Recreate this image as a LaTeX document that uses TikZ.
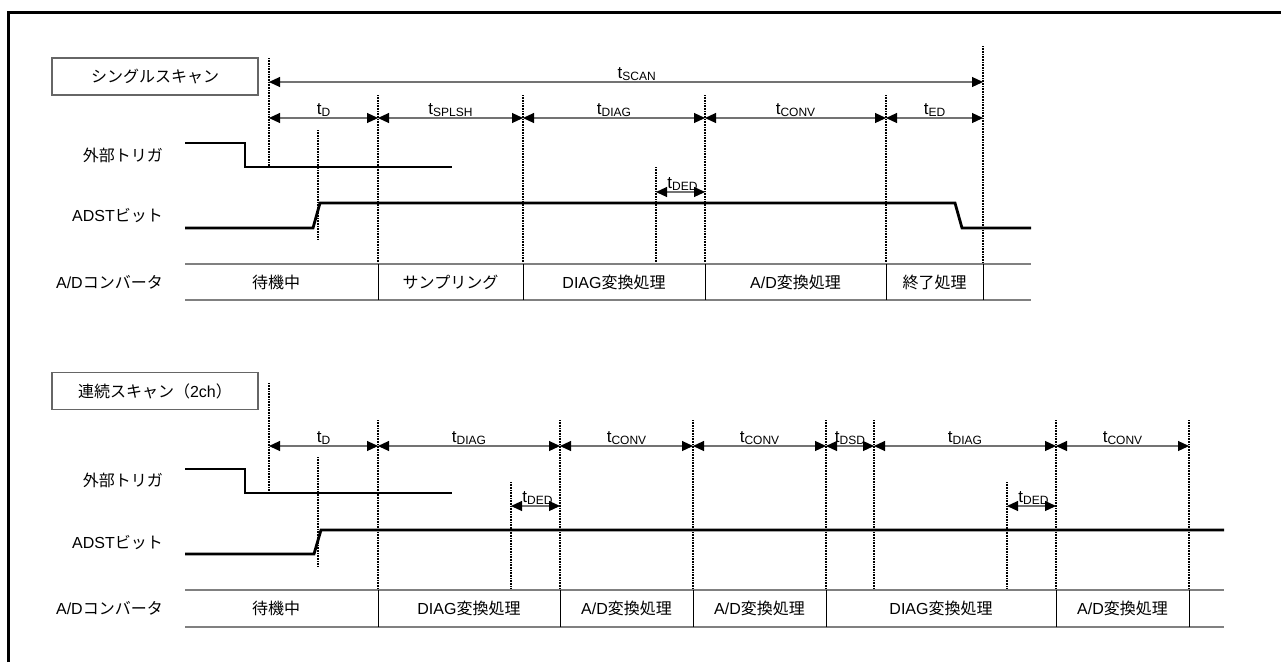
\documentclass[tikz,border=0pt]{standalone}
\usepackage{fontspec}
\setmainfont{Liberation Sans}
\newfontfamily\jp{Noto Sans CJK JP}
\usepackage{tikz}
\usetikzlibrary{arrows.meta}
\newcommand{\tsym}[1]{{\fontsize{17}{17}\selectfont t}\raisebox{-2pt}{\fontsize{12}{12}\selectfont #1}}

\begin{document}
\begin{tikzpicture}[
    x=1pt, y=-1pt,
    font=\fontsize{16}{18}\selectfont,
    sig/.style={line width=2.8pt, line join=miter},
    guide/.style={line width=1.4pt, dash pattern=on 1pt off 0.6pt},
    dimline/.style={{Triangle[length=11pt,width=10pt,black]}-{Triangle[length=11pt,width=10pt,black]}, line width=1.1pt, draw=black!55},
    tm/.style={above, inner sep=1pt},
    cellrule/.style={draw=black!50, line width=1.3pt},
    divider/.style={draw=black, line width=1pt},
    lbl/.style={anchor=east, inner sep=0pt},
    title/.style={draw=black!60, line width=1.1pt, minimum width=206pt, minimum height=37pt},
]
    \useasboundingbox (0,0) rectangle (1281,662);
    \draw[line width=3.2pt] (8.5,662) -- (8.5,12.5) -- (1281,12.5);

    % single scan
    \node[title] (single) at (155,76.5) {\jp シングルスキャン};
    \node[lbl] (trgA) at (163,155) {\jp 外部トリガ};
    \node[lbl] (adstA) at (163,215.5) {ADST{\jp ビット}};
    \node[lbl] (adcA) at (163,282) {A/D{\jp コンバータ}};

    \draw[guide] (269,58) -- (269,167);
    \draw[guide] (318,130) -- (318,240);
    \foreach \x in {378,523,705,886}
        \draw[guide] (\x,95) -- (\x,264);
    \draw[guide] (983,46) -- (983,264);
    \draw[guide] (656,167) -- (656,264);

    \coordinate (scanL) at (269,82);
    \coordinate (scanR) at (983,82);
    \draw[dimline] (scanL) -- node[tm, pos=0.515] {\tsym{SCAN}} (scanR);
    \foreach \n/\x in {0/269,1/378,2/523,3/705,4/886,5/983}
        \coordinate (a\n) at (\x,118);
    \draw[dimline] (a0) -- node[tm] {\tsym{D}} (a1);
    \draw[dimline] (a1) -- node[tm] {\tsym{SPLSH}} (a2);
    \draw[dimline] (a2) -- node[tm] {\tsym{DIAG}} (a3);
    \draw[dimline] (a3) -- node[tm] {\tsym{CONV}} (a4);
    \draw[dimline] (a4) -- node[tm] {\tsym{ED}} (a5);
    \coordinate (dedA1) at (656,192);
    \coordinate (dedA2) at (705,192);
    \draw[dimline] (dedA1) -- node[tm, xshift=2pt] {\tsym{DED}} (dedA2);

    \draw[sig] (185,143) -- (245,143) -- (245,167) -- (452,167);
    \draw[sig] (185,228) -- (313,228) -- (320,203) -- (955,203) -- (962,228) -- (1031,228);

    \draw[cellrule] (185,264) -- (1031,264);
    \draw[cellrule] (185,300) -- (1031,300);
    \foreach \x in {378,523,705,886,983}
        \draw[divider] (\x,264) -- (\x,300);
    \node (waitA) at (276,282) {\jp 待機中};
    \node (smpA) at (450.5,282) {\jp サンプリング};
    \node (diagA) at (614,282) {DIAG{\jp 変換処理}};
    \node (convA) at (795.5,282) {A/D{\jp 変換処理}};
    \node (endA) at (934.5,282) {\jp 終了処理};

    % continuous scan (2ch)
    \node[title] (cont) at (155,391) {{\jp 連続スキャン（}2ch{\jp ）}};
    \node[lbl] (trgB) at (163,480) {\jp 外部トリガ};
    \node[lbl] (adstB) at (163,542) {ADST{\jp ビット}};
    \node[lbl] (adcB) at (163,608) {A/D{\jp コンバータ}};

    \draw[guide] (269,383) -- (269,493);
    \draw[guide] (318,457) -- (318,567);
    \foreach \x in {378,560,693,826,874,1056,1189}
        \draw[guide] (\x,420) -- (\x,590);
    \draw[guide] (511,482) -- (511,590);
    \draw[guide] (1007,482) -- (1007,590);

    \foreach \n/\x in {0/269,1/378,2/560,3/693,4/826,5/874,6/1056,7/1189}
        \coordinate (b\n) at (\x,446);
    \draw[dimline] (b0) -- node[tm] {\tsym{D}} (b1);
    \draw[dimline] (b1) -- node[tm] {\tsym{DIAG}} (b2);
    \draw[dimline] (b2) -- node[tm] {\tsym{CONV}} (b3);
    \draw[dimline] (b3) -- node[tm] {\tsym{CONV}} (b4);
    \draw[dimline] (b4) -- node[tm] {\tsym{DSD}} (b5);
    \draw[dimline] (b5) -- node[tm] {\tsym{DIAG}} (b6);
    \draw[dimline] (b6) -- node[tm] {\tsym{CONV}} (b7);
    \coordinate (dedB1) at (511,506);
    \coordinate (dedB2) at (560,506);
    \coordinate (dedB3) at (1007,506);
    \coordinate (dedB4) at (1056,506);
    \draw[dimline] (dedB1) -- node[tm, xshift=2pt] {\tsym{DED}} (dedB2);
    \draw[dimline] (dedB3) -- node[tm, xshift=2pt] {\tsym{DED}} (dedB4);

    \draw[sig] (185,469) -- (245,469) -- (245,493) -- (452,493);
    \draw[sig] (185,554) -- (314,554) -- (321,530) -- (1224,530);

    \draw[cellrule] (185,590) -- (1224,590);
    \draw[cellrule] (185,627) -- (1224,627);
    \foreach \x in {378,560,693,826,1056,1189}
        \draw[divider] (\x,590) -- (\x,627);
    \node (waitB) at (276,608) {\jp 待機中};
    \node (diagB1) at (469,608) {DIAG{\jp 変換処理}};
    \node (convB1) at (626.5,608) {A/D{\jp 変換処理}};
    \node (convB2) at (759.5,608) {A/D{\jp 変換処理}};
    \node (diagB2) at (941,608) {DIAG{\jp 変換処理}};
    \node (convB3) at (1122.5,608) {A/D{\jp 変換処理}};
\end{tikzpicture}
\end{document}
